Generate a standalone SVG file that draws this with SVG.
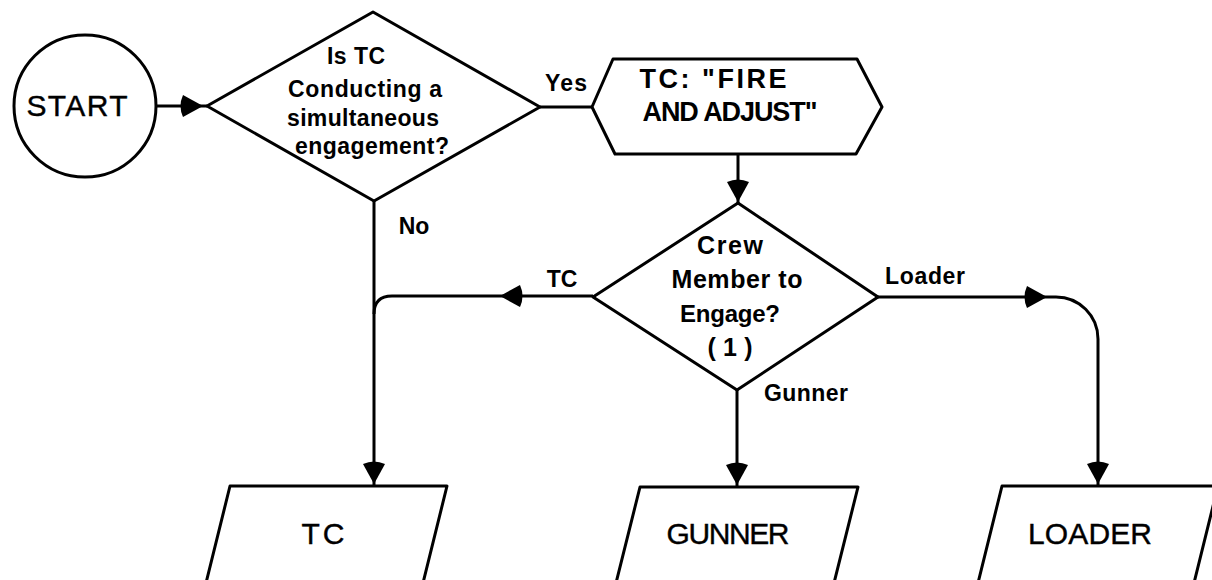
<svg xmlns="http://www.w3.org/2000/svg" width="1212" height="580" viewBox="0 0 1212 580">
  <style>
    .shape{fill:#fff;stroke:#000;stroke-width:3;stroke-linejoin:round}
    .conn{fill:none;stroke:#000;stroke-width:3}
    .lbl{font-family:"Liberation Sans",Arial,sans-serif;font-weight:bold;fill:#000;text-anchor:middle}
    .big{font-family:"Liberation Sans",Arial,sans-serif;font-size:30px;fill:#000;stroke:#000;stroke-width:0.4;text-anchor:middle}
    .d1{font-size:23px}
    .d2{font-size:25px}
    .hx{font-size:27px}
    .edge{font-size:23px}
  </style>
  <defs>
    <!-- filled arrowhead, tip at the origin, pointing along +x -->
    <path id="ah" d="M0,0 L-20,-11 Q-25,0 -20,11 Z" fill="#000"/>
  </defs>

  <g id="connectors">
    <path class="conn" d="M156,106 H207"/>
    <use href="#ah" transform="translate(203,106)"/>

    <path class="conn" d="M540,107 H592"/>
    <text class="lbl edge" x="566" y="91" textLength="42" lengthAdjust="spacing">Yes</text>

    <path class="conn" d="M738,154 V203"/>
    <use href="#ah" transform="translate(738,202) rotate(90)"/>

    <path class="conn" d="M374,201 V486"/>
    <use href="#ah" transform="translate(374,484) rotate(90)"/>
    <text class="lbl edge" x="414" y="234">No</text>

    <path class="conn" d="M593,296 H392 Q374,296 374,314"/>
    <use href="#ah" transform="translate(500,296) rotate(180)"/>
    <text class="lbl edge" x="562" y="287">TC</text>

    <path class="conn" d="M737,390 V487"/>
    <use href="#ah" transform="translate(737,485) rotate(90)"/>
    <text class="lbl edge" x="806" y="401" textLength="84" lengthAdjust="spacing">Gunner</text>

    <path class="conn" d="M878,297 H1056 A42,42 0 0 1 1098,339 V486"/>
    <use href="#ah" transform="translate(1047,297)"/>
    <use href="#ah" transform="translate(1098,484) rotate(90)"/>
    <text class="lbl edge" x="925" y="284" textLength="80" lengthAdjust="spacing">Loader</text>
  </g>

  <g id="start">
    <circle class="shape" cx="85" cy="106" r="71"/>
    <text class="big" x="77" y="116" font-size="31" textLength="101" lengthAdjust="spacing">START</text>
  </g>

  <g id="decision-simultaneous">
    <polygon class="shape" points="373,12 540,107 374,201 207,106"/>
    <text class="lbl d1" x="356" y="64" textLength="58" lengthAdjust="spacing">Is TC</text>
    <text class="lbl d1" x="365" y="97" textLength="154" lengthAdjust="spacing">Conducting a</text>
    <text class="lbl d1" x="363" y="126" textLength="152" lengthAdjust="spacing">simultaneous</text>
    <text class="lbl d1" x="372" y="154" textLength="154" lengthAdjust="spacing">engagement?</text>
  </g>

  <g id="fire-and-adjust">
    <polygon class="shape" points="592,107 613,59 857,59 882,107 856,154 615,154"/>
    <text class="lbl hx" x="713" y="88" textLength="147" lengthAdjust="spacing">TC: "FIRE</text>
    <text class="lbl hx" x="730" y="121" textLength="175" lengthAdjust="spacing">AND ADJUST"</text>
  </g>

  <g id="decision-crew">
    <polygon class="shape" points="738,203 878,297 737,390 593,297"/>
    <text class="lbl d2" x="730" y="254" textLength="66" lengthAdjust="spacing">Crew</text>
    <text class="lbl d2" x="737" y="288" textLength="131" lengthAdjust="spacing">Member to</text>
    <text class="lbl" x="730" y="322" font-size="24" textLength="100" lengthAdjust="spacing">Engage?</text>
    <text class="lbl d2" x="730" y="356" textLength="45" lengthAdjust="spacing">(1)</text>
  </g>

  <g id="tc">
    <polygon class="shape" points="230,486 447,486 423,583 206,583"/>
    <text class="big" x="323" y="544" textLength="43" lengthAdjust="spacing">TC</text>
  </g>

  <g id="gunner">
    <polygon class="shape" points="640,487 858,487 834,583 616,583"/>
    <text class="big" x="728" y="544" textLength="123" lengthAdjust="spacing">GUNNER</text>
  </g>

  <g id="loader">
    <polygon class="shape" points="1002,486 1218,486 1194,583 978,583"/>
    <text class="big" x="1090" y="544" textLength="124" lengthAdjust="spacing">LOADER</text>
  </g>
</svg>
